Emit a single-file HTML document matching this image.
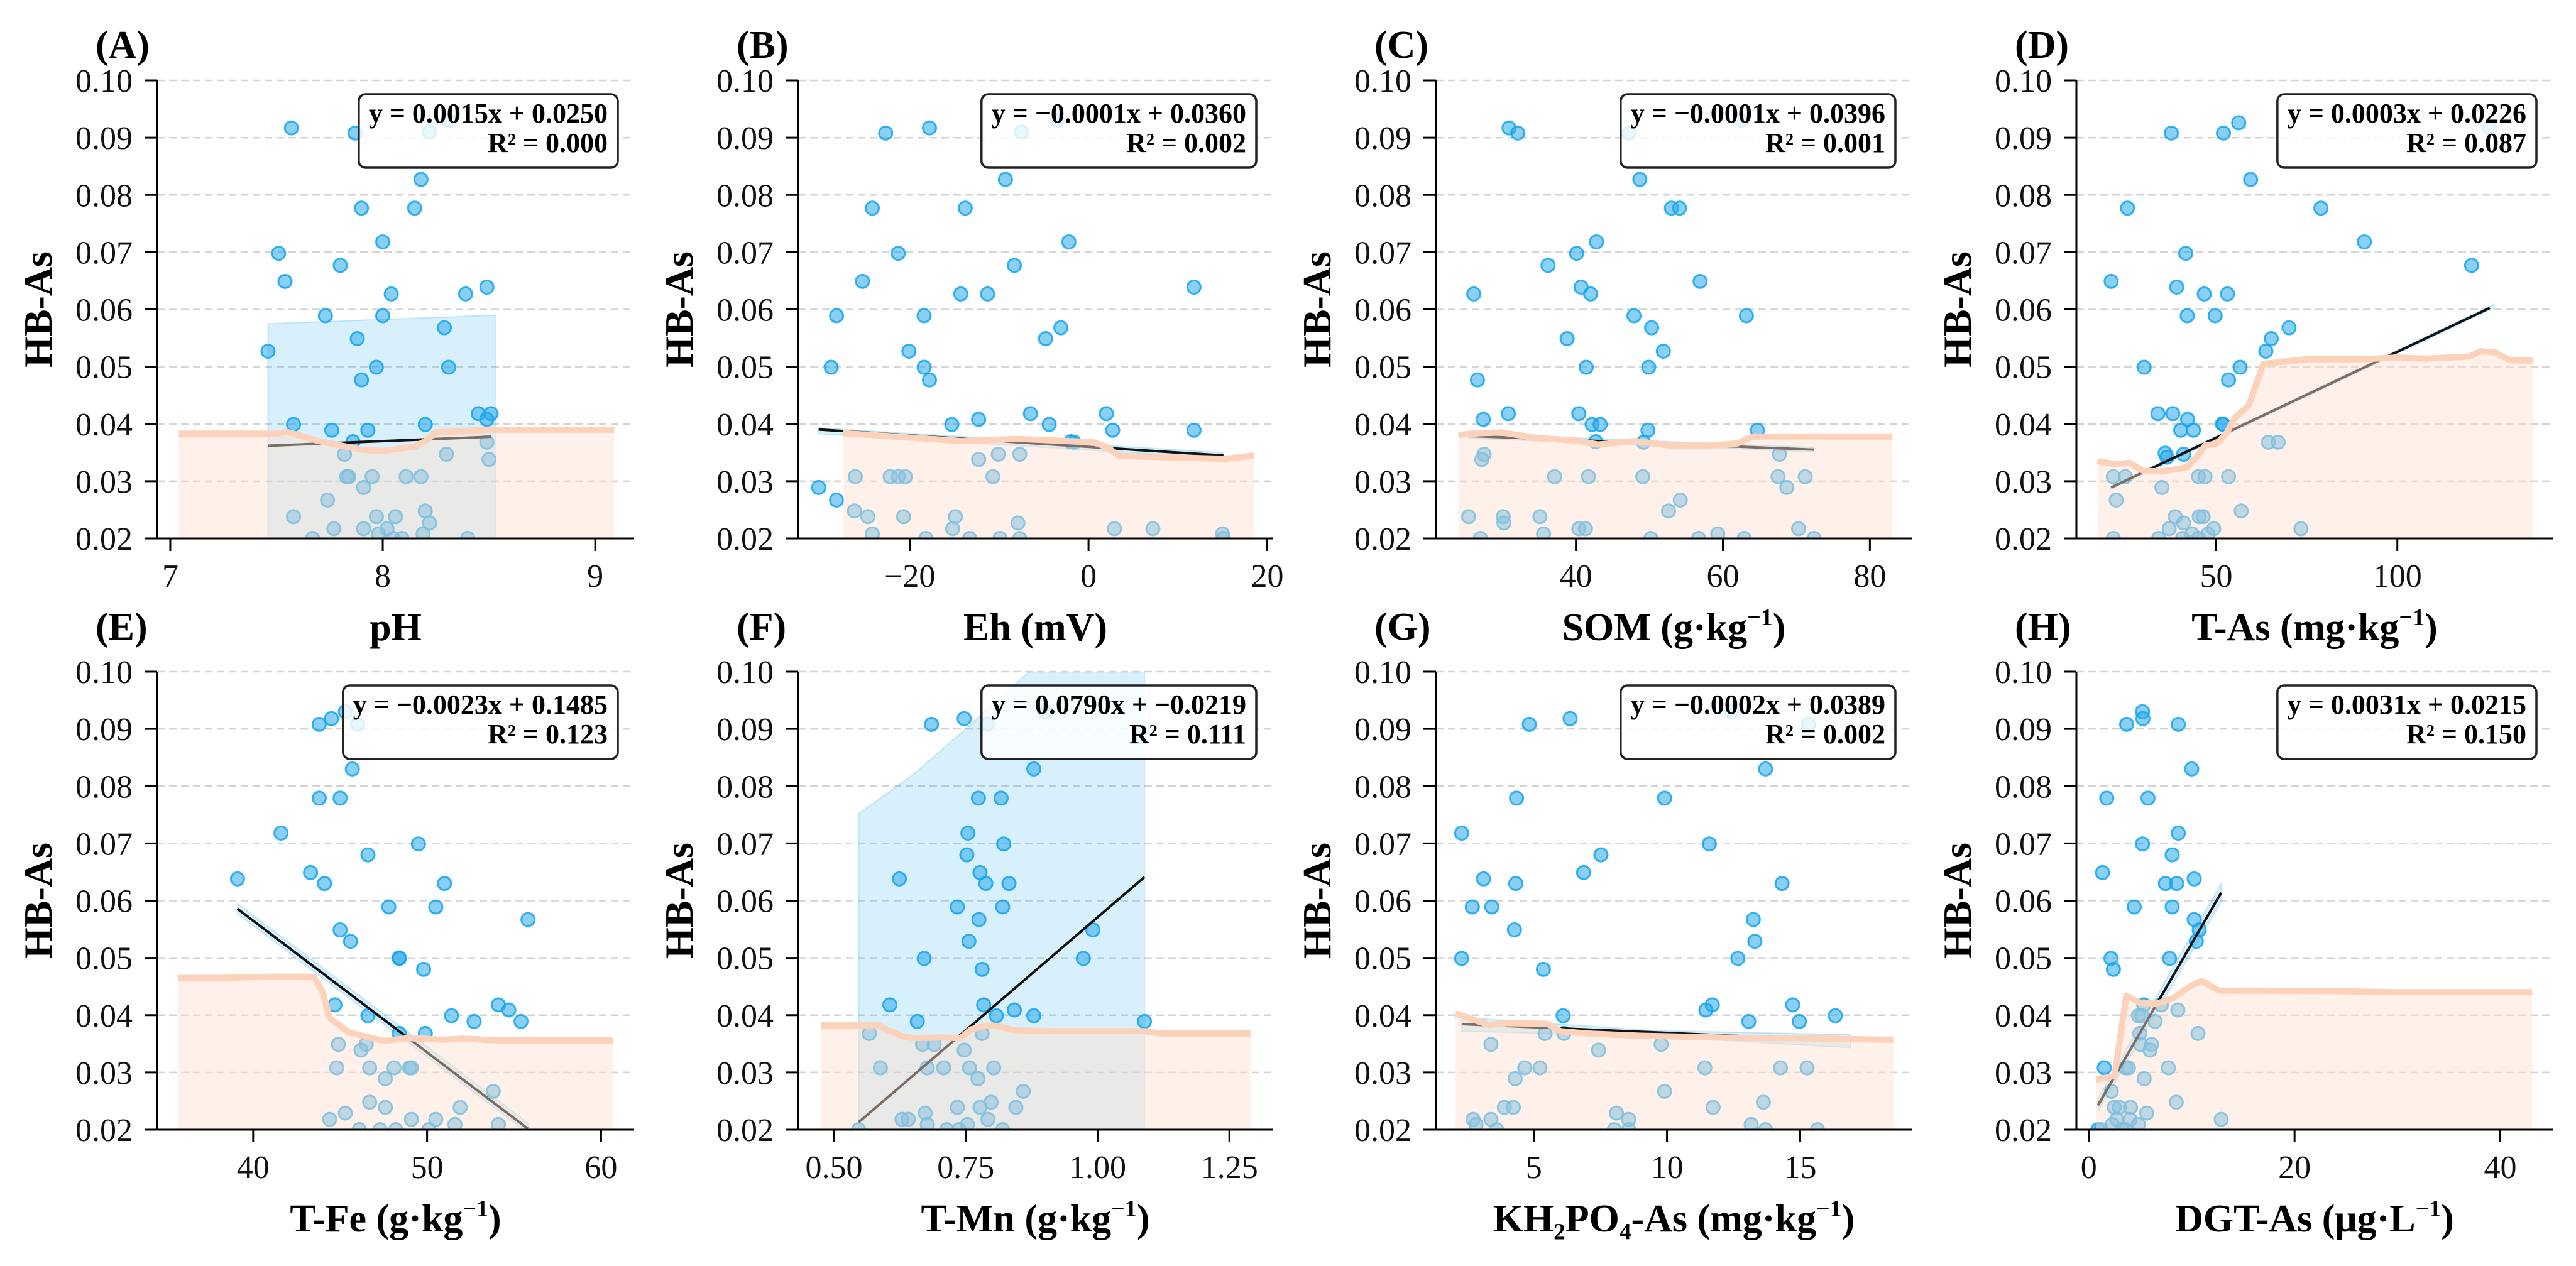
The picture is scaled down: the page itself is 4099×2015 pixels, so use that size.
<!DOCTYPE html>
<html><head><meta charset="utf-8">
<style>
html,body{margin:0;padding:0;background:#fff;overflow:hidden;width:4099px;height:2015px;position:relative;}
svg{display:block;position:absolute;left:0;top:0;overflow:hidden;font-family:"Liberation Serif","DejaVu Serif",serif;}
</style></head>
<body>
<svg id="fig" width="4099" height="2015" viewBox="0 0 4099 2015" xmlns="http://www.w3.org/2000/svg"></svg>
<script>
// ---------- DATA ----------
const xA=[7.57,7.87,8.22,8.31,8.18,7.90,8.15,8.00,7.51,7.80,7.54,8.04,8.39,8.49,7.73,8.00,8.29,7.88,7.46,7.97,8.31,7.90,8.45,8.51,8.49,7.58,8.20,7.76,7.93,7.86,8.49,7.82,8.30,8.50,7.83,7.84,7.95,8.11,8.18,7.91,7.74,7.58,7.97,8.06,8.20,8.22,7.77,7.91,8.02,7.98,8.19,7.67,8.05,8.09,8.40];
const yA=[0.0917,0.0908,0.091,0.093,0.0827,0.0777,0.0777,0.0718,0.0698,0.0677,0.0649,0.0627,0.0627,0.0639,0.0589,0.0589,0.0568,0.0549,0.0527,0.0499,0.0499,0.0477,0.0418,0.0418,0.0408,0.0399,0.0399,0.0389,0.0389,0.0369,0.0368,0.0347,0.0347,0.0338,0.0308,0.0308,0.0308,0.0308,0.0308,0.0289,0.0267,0.0238,0.0238,0.0238,0.0248,0.0227,0.0217,0.0217,0.0217,0.0208,0.0208,0.020,0.020,0.020,0.020];
const xB=[-22.7,-17.8,-7.5,-3.5,-9.3,-24.2,-13.8,-2.2,-21.3,-8.3,-25.3,-14.3,-11.3,11.8,-28.2,-18.4,-3.1,-4.8,-20.1,-28.8,-18.4,-17.8,-6.5,2.0,-12.3,-15.3,-4.4,2.7,11.8,-2.0,-1.6,-12.3,-10.1,-7.7,-30.2,-26.1,-22.2,-21.3,-20.5,-10.7,-28.2,-26.2,-24.7,-20.7,-14.9,-15.2,-7.9,2.9,7.2,15.0,-24.2,-18.2,-13.3,-9.9,-7.7,15.1];
const yB=[0.0908,0.0917,0.091,0.093,0.0827,0.0777,0.0777,0.0718,0.0698,0.0677,0.0649,0.0627,0.0627,0.0639,0.0589,0.0589,0.0568,0.0549,0.0527,0.0499,0.0499,0.0477,0.0418,0.0418,0.0408,0.0399,0.0399,0.0389,0.0389,0.0369,0.0368,0.0338,0.0347,0.0347,0.0289,0.0308,0.0308,0.0308,0.0308,0.0308,0.0267,0.0248,0.0238,0.0238,0.0238,0.0217,0.0227,0.0217,0.0217,0.0208,0.0208,0.020,0.020,0.020,0.020,0.020];
const xC=[30.9,32.1,47.2,62.5,48.7,53.0,54.1,42.8,40.1,36.2,56.9,40.7,26.1,42.0,47.9,63.2,50.3,38.8,51.9,41.4,49.9,26.6,30.8,40.4,27.4,42.2,43.3,49.8,64.7,42.7,49.2,27.5,67.7,27.2,37.1,41.7,49.1,67.5,71.2,68.7,54.2,52.6,25.4,30.1,35.1,30.2,40.4,41.3,70.3,35.6,59.3,27.0,50.2,56.7,62.9,72.4];
const yC=[0.0917,0.0908,0.0908,0.093,0.0827,0.0777,0.0777,0.0718,0.0698,0.0677,0.0649,0.0639,0.0627,0.0627,0.0589,0.0589,0.0568,0.0549,0.0527,0.0499,0.0499,0.0477,0.0418,0.0418,0.0408,0.0399,0.0399,0.0389,0.0389,0.0369,0.0368,0.0347,0.0347,0.0338,0.0308,0.0308,0.0308,0.0308,0.0308,0.0289,0.0267,0.0248,0.0238,0.0238,0.0238,0.0227,0.0217,0.0217,0.0217,0.0208,0.0208,0.020,0.020,0.020,0.020,0.020];
const xD=[37.6,52.0,56.2,125.5,59.5,25.5,78.9,90.9,41.6,120.5,21.0,39.1,46.7,53.1,42.0,49.7,70.1,65.2,63.7,30.1,56.6,53.4,33.9,38.0,42.1,51.7,52.0,40.2,43.7,35.9,36.4,41.0,64.4,67.1,21.6,24.9,45.1,46.9,53.4,35.0,22.4,56.9,38.7,45.3,46.4,41.0,37.0,49.3,73.4,43.3,47.7,21.6,34.1,40.7,45.1];
const yD=[0.0908,0.0908,0.0926,0.0917,0.0827,0.0777,0.0777,0.0718,0.0698,0.0677,0.0649,0.0639,0.0627,0.0627,0.0589,0.0589,0.0568,0.0549,0.0527,0.0499,0.0499,0.0477,0.0418,0.0418,0.0408,0.040,0.0399,0.0389,0.0389,0.0349,0.0342,0.0347,0.0368,0.0368,0.0308,0.0308,0.0308,0.0308,0.0308,0.0289,0.0267,0.0248,0.0238,0.0238,0.0238,0.0227,0.0217,0.0217,0.0217,0.0208,0.0208,0.020,0.020,0.020,0.020];
const xE=[43.8,44.5,45.3,46.0,45.7,43.8,45.0,41.6,49.5,46.6,43.3,44.1,51.0,39.1,47.8,50.5,55.8,45.0,45.6,48.4,48.4,49.8,44.7,54.1,54.7,46.6,51.4,52.7,55.4,48.4,49.9,44.9,46.5,46.2,44.8,46.7,48.1,49.0,49.1,47.6,53.8,46.7,51.9,47.6,45.3,44.4,49.1,50.5,51.6,54.1,46.1,47.3,48.2,50.1];
const yE=[0.0908,0.0918,0.0930,0.0908,0.0830,0.0779,0.0779,0.0718,0.0699,0.0680,0.0649,0.0630,0.0630,0.0638,0.0589,0.0589,0.0567,0.0549,0.0529,0.0499,0.050,0.0480,0.0418,0.0418,0.0409,0.0399,0.0399,0.0389,0.0389,0.0368,0.0368,0.0349,0.0349,0.0339,0.0308,0.0308,0.0308,0.0308,0.0308,0.0289,0.0267,0.0248,0.0239,0.0239,0.0229,0.0218,0.0218,0.0218,0.0209,0.0209,0.020,0.020,0.020,0.020];
const xF=[0.685,0.747,0.791,0.902,0.879,0.774,0.817,0.754,0.822,0.752,0.777,0.624,0.788,0.832,0.734,0.820,0.775,0.991,0.756,0.671,0.973,0.781,0.606,0.784,0.842,0.808,0.879,0.658,1.089,0.567,0.781,0.668,0.690,0.747,0.588,0.677,0.708,0.757,0.803,0.773,0.859,0.798,0.734,0.777,0.845,0.673,0.629,0.641,0.792,0.677,0.753,0.547,0.714,0.737,0.820];
const yF=[0.0908,0.0918,0.0908,0.093,0.0830,0.0779,0.0779,0.0718,0.0699,0.0680,0.0649,0.0638,0.0630,0.0630,0.0589,0.0589,0.0567,0.0549,0.0529,0.0499,0.0499,0.0480,0.0418,0.0418,0.0409,0.0399,0.0399,0.0389,0.0389,0.0368,0.0368,0.0349,0.0349,0.0339,0.0308,0.0308,0.0308,0.0308,0.0308,0.0289,0.0267,0.0248,0.0239,0.0239,0.0239,0.0229,0.0218,0.0218,0.0218,0.0209,0.0209,0.020,0.020,0.020,0.020];
const xG=[4.83,6.36,12.43,15.31,13.70,4.35,9.91,2.29,11.59,7.52,6.87,3.11,4.32,14.32,2.69,3.42,13.24,4.27,13.30,2.29,12.66,5.36,11.70,14.72,11.46,6.10,16.32,13.07,14.97,5.42,6.13,3.39,9.78,7.43,4.66,5.23,11.42,14.26,15.26,4.30,9.91,13.62,3.89,4.23,11.73,8.10,2.72,3.39,8.56,2.83,13.16,3.61,8.02,8.56,13.70,15.65];
const yG=[0.0908,0.0918,0.093,0.0908,0.0830,0.0779,0.0779,0.0718,0.0699,0.0680,0.0649,0.0638,0.0630,0.0630,0.0589,0.0589,0.0567,0.0549,0.0529,0.0499,0.0499,0.0480,0.0418,0.0418,0.0409,0.0399,0.0399,0.0389,0.0389,0.0368,0.0368,0.0349,0.0349,0.0339,0.0308,0.0308,0.0308,0.0308,0.0308,0.0289,0.0267,0.0248,0.0239,0.0239,0.0239,0.0229,0.0218,0.0218,0.0218,0.0209,0.0209,0.020,0.020,0.020,0.020,0.020];
const xH=[3.68,5.22,5.26,8.70,10.0,1.74,5.75,8.70,5.22,8.10,1.34,10.24,7.45,8.54,4.41,8.10,10.24,10.73,10.45,2.15,7.85,2.39,5.34,7.04,8.66,4.82,5.14,6.44,4.94,10.61,5.02,6.11,5.95,1.50,3.60,3.85,7.73,5.38,2.19,8.50,2.47,2.96,4.05,5.63,12.87,2.71,4.01,2.27,4.82,1.21,3.24,3.60,0.89];
const yH=[0.0908,0.0930,0.0918,0.0908,0.0830,0.0779,0.0779,0.0718,0.0699,0.0680,0.0649,0.0638,0.0630,0.0630,0.0589,0.0589,0.0567,0.0549,0.0529,0.0499,0.0499,0.0480,0.0418,0.0418,0.0409,0.0399,0.0399,0.0389,0.0368,0.0368,0.0349,0.0349,0.0339,0.0308,0.0308,0.0308,0.0308,0.0289,0.0267,0.0248,0.0239,0.0239,0.0239,0.0229,0.0218,0.0218,0.0218,0.0209,0.0209,0.020,0.020,0.020,0.020];

const slopes=[0.0015,-0.0001,-0.000051,0.0003,-0.0023,0.0790,-0.0002,0.0031];
const intercepts=[0.0250,0.0360,0.0392,0.0226,0.1485,-0.0219,0.0389,0.0215];
const eqLabels=["y = 0.0015x + 0.0250","y = \u22120.0001x + 0.0360","y = \u22120.0001x + 0.0396","y = 0.0003x + 0.0226","y = \u22120.0023x + 0.1485","y = 0.0790x + \u22120.0219","y = \u22120.0002x + 0.0389","y = 0.0031x + 0.0215"];
const r2Labels=["R\u00b2 = 0.000","R\u00b2 = 0.002","R\u00b2 = 0.001","R\u00b2 = 0.087","R\u00b2 = 0.123","R\u00b2 = 0.111","R\u00b2 = 0.002","R\u00b2 = 0.150"];

const ciXA=[7.46,8.53], ciHiA=[0.0575,0.059], ciLoA=[0.012,0.013];
const ciXB=[-30.2,15.0], ciHiB=[0.0393,0.0350], ciLoB=[0.0383,0.0340];
const ciXC=[25.4,72.4], ciHiC=[0.0383,0.0359], ciLoC=[0.0375,0.0351];
const ciXD=[20.8,126.7], ciHiD=[0.0291,0.0609], ciLoD=[0.0285,0.0603];
const ciXE=[39.1,55.8], ciHiE=[0.0595,0.0212], ciLoE=[0.0577,0.0194];
const ciXF=[0.547,0.65,0.75,0.87,1.089], ciHiF=[0.0752,0.082,0.090,0.100,0.118], ciLoF=[0.005,0.008,0.010,0.012,0.015];
const ciXG=[2.29,9.5,16.9], ciHiG=[0.0396,0.0373,0.0366], ciLoG=[0.0372,0.0363,0.0343];
const ciXH=[0.89,12.87], ciHiH=[0.0255,0.0630], ciLoH=[0.0232,0.0598];

const smXA=[7.04,7.5,7.55,7.7,7.9,8.0,8.15,8.2,8.25,8.5,9.09], smYA=[0.0383,0.0383,0.0386,0.0370,0.0355,0.0353,0.0360,0.0370,0.0385,0.0390,0.0390];
const smXB=[-27.5,-14,-8,0.5,2,3.5,15.5,18.5], smYB=[0.0384,0.0370,0.0374,0.0368,0.0360,0.0344,0.0339,0.0345];
const smXC=[24,27,30,35,40,43,48,53,58,62,64,83], smYC=[0.0381,0.0384,0.0385,0.0375,0.0371,0.0364,0.0370,0.0362,0.0362,0.0366,0.0378,0.0378];
const smXD=[17.2,22,26,30,35,40,42,45,47,50,53,55,59,63,75,90,100,108,120,123,127,131,137.4], smYD=[0.0335,0.0330,0.0332,0.0318,0.0317,0.0322,0.0325,0.0345,0.0363,0.0365,0.0385,0.0410,0.0433,0.0505,0.0513,0.0513,0.0516,0.0514,0.0518,0.0527,0.0525,0.0511,0.0511];
const smXE=[35.7,38,41,43.5,44,44.4,45.5,47.5,49,51,52,54,60.7], smYE=[0.0465,0.0465,0.0467,0.0467,0.0440,0.0395,0.0370,0.0355,0.0360,0.0357,0.0359,0.0356,0.0356];
const smXF=[0.475,0.55,0.585,0.60,0.63,0.65,0.70,0.74,0.76,0.79,0.81,0.84,0.9,1.0,1.09,1.12,1.29], smYF=[0.0382,0.0382,0.0382,0.0375,0.0363,0.0360,0.0361,0.0360,0.0375,0.0382,0.0381,0.0374,0.0372,0.0372,0.0372,0.0368,0.0368];
const smXG=[2.06,3.3,4.0,5.5,6.0,7.0,9,11,13,15,17,18.5], smYG=[0.0403,0.0383,0.0386,0.0385,0.0372,0.0368,0.0364,0.0362,0.0360,0.0360,0.0358,0.0357];
const smXH=[0.69,2.5,3.64,4.94,6.6,8.2,9.8,11.0,12.6,24.4,30,43.1], smYH=[0.0287,0.0294,0.0434,0.0422,0.0420,0.0430,0.0450,0.0460,0.0443,0.0442,0.0440,0.0440];

const xDomains=[[6.938,9.183],[-32.5,20.6],[20.96,85.7],[11.4,142.9],[34.48,61.9],[0.432,1.332],[1.326,19.19],[-1.21,45.1]];
const xTickVals=[[7,8,9],[-20,0,20],[40,60,80],[50,100],[40,50,60],[0.5,0.75,1.0,1.25],[5,10,15],[0,20,40]];
const xTickLabels=[["7","8","9"],["\u221220","0","20"],["40","60","80"],["50","100"],["40","50","60"],["0.50","0.75","1.00","1.25"],["5","10","15"],["0","20","40"]];
const yTickVals=[0.02,0.03,0.04,0.05,0.06,0.07,0.08,0.09,0.10];
const yTickLabels=["0.02","0.03","0.04","0.05","0.06","0.07","0.08","0.09","0.10"];
const panelLetters=["(A)","(B)","(C)","(D)","(E)","(F)","(G)","(H)"];

// ---------- LAYOUT ----------
const NS="http://www.w3.org/2000/svg";
const svg=document.getElementById('fig');
const colL=[250,1270,2285,3304], colR=[1009,2025,3042,4062];
const rowT=[128,1069], rowB=[857,1798];
const letterY=[92,1018];
const xs=[xA,xB,xC,xD,xE,xF,xG,xH], ys=[yA,yB,yC,yD,yE,yF,yG,yH];
const ciX=[ciXA,ciXB,ciXC,ciXD,ciXE,ciXF,ciXG,ciXH], ciHi=[ciHiA,ciHiB,ciHiC,ciHiD,ciHiE,ciHiF,ciHiG,ciHiH], ciLo=[ciLoA,ciLoB,ciLoC,ciLoD,ciLoE,ciLoF,ciLoG,ciLoH];
const smX=[smXA,smXB,smXC,smXD,smXE,smXF,smXG,smXH], smY=[smYA,smYB,smYC,smYD,smYE,smYF,smYG,smYH];
const xTitles=[["pH"],["Eh (mV)"],["SOM (g\u00b7kg",1,")"],["T-As (mg\u00b7kg",1,")"],["T-Fe (g\u00b7kg",1,")"],["T-Mn (g\u00b7kg",1,")"],["KH\u2082PO\u2084-As (mg\u00b7kg",1,")"],["DGT-As (\u03bcg\u00b7L",1,")"]];
const keys=["ph","eh","som","t-as","t-fe","t-mn","kh2po4-as","dgt-as"];

function mk(tag,attrs,parent){const e=document.createElementNS(NS,tag);for(const k in attrs)e.setAttribute(k,attrs[k]);(parent||svg).appendChild(e);return e;}

const defs=mk('defs',{});

for(let p=0;p<8;p++){
  const col=p%4,row=Math.floor(p/4);
  const L=colL[col],R=colR[col],T=rowT[row],B=rowB[row];
  const [x0,x1]=xDomains[p];
  const sx=v=>L+(v-x0)/(x1-x0)*(R-L);
  const sy=v=>B-(v-0.02)/0.08*(B-T);
  const g=mk('g',{});
  
  
  const cp=mk('clipPath',{id:'clip'+p},defs);
  mk('rect',{x:L,y:T,width:R-L,height:B-T},cp);
  yTickVals.forEach(v=>{
    const gl=mk('line',{x1:L,x2:R,y1:sy(v),y2:sy(v),stroke:'#d3d3d3','stroke-width':2.5,'stroke-dasharray':'12,7'},g);
    
    
  });
  const cg=mk('g',{'clip-path':'url(#clip'+p+')'},g);
  let pts=ciX[p].map((x,i)=>sx(x)+','+sy(ciHi[p][i]));
  pts=pts.concat(ciX[p].map((x,i)=>sx(x)+','+sy(ciLo[p][i])).reverse());
  const band=mk('polygon',{points:pts.join(' '),fill:'rgba(56,180,240,0.2)',stroke:'rgba(56,180,240,0.25)','stroke-width':2},cg);
  
  
  xs[p].forEach((x,i)=>{
    const c=mk('circle',{cx:sx(x),cy:sy(ys[p][i]),r:10.5,fill:'rgba(41,169,236,0.55)',stroke:'rgba(20,165,236,0.85)','stroke-width':3},cg);
    
    
  });
  const xmin=Math.min(...xs[p]),xmax=Math.max(...xs[p]);
  const rl=mk('line',{x1:sx(xmin),y1:sy(slopes[p]*xmin+intercepts[p]),x2:sx(xmax),y2:sy(slopes[p]*xmax+intercepts[p]),stroke:'#111','stroke-width':4},cg);
  
  
  const sp=smX[p].map((x,i)=>sx(x)+','+sy(smY[p][i]));
  const fillPts=[sx(smX[p][0])+','+B].concat(sp,[sx(smX[p][smX[p].length-1])+','+B]);
  const sf=mk('polygon',{points:fillPts.join(' '),fill:'rgba(254,224,206,0.45)'},cg);
  
  
  const sl=mk('polyline',{points:sp.join(' '),fill:'none',stroke:'#fdd2bb','stroke-width':10,'stroke-linejoin':'round'},cg);
  
  
  const ys1=mk('line',{x1:L,x2:L,y1:T,y2:B+1.5,stroke:'#000','stroke-width':3},g);
  
  
  const xs1=mk('line',{x1:L-1.5,x2:R,y1:B,y2:B,stroke:'#000','stroke-width':3},g);
  
  
  yTickVals.forEach((v,i)=>{
    mk('line',{x1:L-20,x2:L,y1:sy(v),y2:sy(v),stroke:'#000','stroke-width':3},g);
    const t=mk('text',{x:L-39,y:sy(v)+18,'text-anchor':'end','font-size':52,fill:'#111'},g);
    t.textContent=yTickLabels[i];
    
    
  });
  xTickVals[p].forEach((v,i)=>{
    mk('line',{x1:sx(v),x2:sx(v),y1:B,y2:B+20,stroke:'#000','stroke-width':3},g);
    const t=mk('text',{x:sx(v),y:B+77,'text-anchor':'middle','font-size':52,fill:'#111'},g);
    t.textContent=xTickLabels[p][i];
    
    
  });
  const yt=mk('text',{x:0,y:0,transform:'translate('+(L-168)+','+((T+B)/2)+') rotate(-90)','text-anchor':'middle','font-size':64,'font-weight':'bold',fill:'#000'},g);
  yt.textContent='HB-As';
  
  
  const xt=mk('text',{x:(L+R)/2,y:B+162,'text-anchor':'middle','font-size':62,'font-weight':'bold',fill:'#000'},g);
  
  
  const parts=xTitles[p];
  const s1=mk('tspan',{},xt);s1.textContent=parts[0];
  if(parts.length>1){
    const s2=mk('tspan',{dy:-24,'font-size':38},xt);s2.textContent='\u22121';
    const s3=mk('tspan',{dy:24},xt);s3.textContent=parts[2];
  }
  const pl=mk('text',{x:L-98,y:letterY[row],'font-size':62,'font-weight':'bold',fill:'#000'},g);
  pl.textContent=panelLetters[p];
  
  
  const lg=mk('g',{},g);
  
  
  const boxR=R-26,boxT=T+22;
  const rect=mk('rect',{x:boxR-406,y:boxT,width:406,height:117,rx:11,ry:11,fill:'rgba(255,255,255,0.82)',stroke:'#222','stroke-width':3.5},lg);
  const t1=mk('text',{x:boxR-16,y:boxT+45,'text-anchor':'end','font-size':44,'font-weight':'bold',fill:'#000'},lg);
  t1.textContent=eqLabels[p];
  const t2=mk('text',{x:boxR-16,y:boxT+92,'text-anchor':'end','font-size':44,'font-weight':'bold',fill:'#000'},lg);
  t2.textContent=r2Labels[p];
  try{
    const w=Math.max(t1.getBBox().width,t2.getBBox().width)+32;
    rect.setAttribute('x',boxR-w);rect.setAttribute('width',w);
  }catch(e){}
}
</script>
</body></html>
